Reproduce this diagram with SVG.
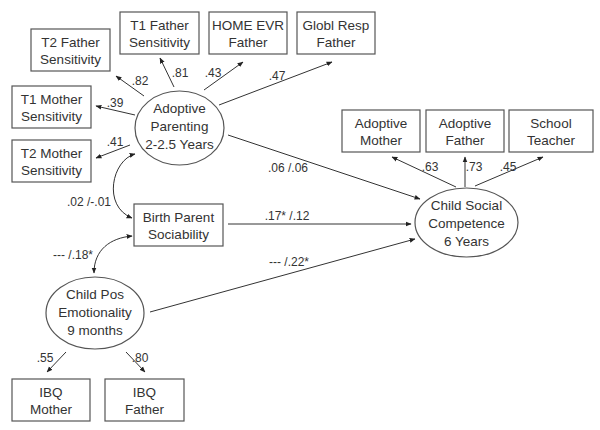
<svg xmlns="http://www.w3.org/2000/svg" width="600" height="430" viewBox="0 0 600 430">
<defs>
<marker id="ah" viewBox="0 0 10 10" refX="9" refY="5" markerWidth="6" markerHeight="6" orient="auto-start-reverse" markerUnits="userSpaceOnUse">
<path d="M0,1 L10,5 L0,9 z" fill="#222"/>
</marker>
<style>
.box{fill:#fff;stroke:#555;stroke-width:1.2}
.ell{fill:#fff;stroke:#555;stroke-width:1.2}
.t{font-family:"Liberation Sans",Arial,sans-serif;font-size:13.5px;fill:#333;text-anchor:middle}
.l{font-family:"Liberation Sans",Arial,sans-serif;font-size:12px;fill:#333;text-anchor:middle}
.c{fill:none;stroke:#333;stroke-width:1}
.a{marker-end:url(#ah)}
.d{marker-start:url(#ah);marker-end:url(#ah)}
</style>
</defs>
<rect width="600" height="430" fill="#fff"/>
<g id="connectors">
<line class="c a" x1="144" y1="96" x2="116" y2="76"/>
<line class="c a" x1="174" y1="87" x2="160" y2="58"/>
<line class="c a" x1="204" y1="90" x2="243" y2="62"/>
<line class="c a" x1="219" y1="105" x2="332" y2="62"/>
<line class="c a" x1="135" y1="115" x2="96" y2="106"/>
<line class="c a" x1="130" y1="145" x2="96" y2="158"/>
<path class="c d" d="M135,154 C112,160 102,206 132,218"/>
<path class="c d" d="M132,236 C110,238 94,250 94,273"/>
<line class="c a" x1="228" y1="224" x2="411" y2="224"/>
<line class="c a" x1="228" y1="135" x2="420" y2="199"/>
<line class="c a" x1="150" y1="312" x2="415" y2="239"/>
<line class="c a" x1="456" y1="187" x2="392" y2="157"/>
<line class="c a" x1="465" y1="187" x2="465" y2="157"/>
<line class="c a" x1="475" y1="186" x2="543" y2="157"/>
<line class="c a" x1="66" y1="352" x2="47" y2="372"/>
<line class="c a" x1="126" y1="352" x2="145" y2="372"/>
<text class="l" x="140" y="85">.82</text>
<text class="l" x="180" y="77">.81</text>
<text class="l" x="213" y="77">.43</text>
<text class="l" x="277" y="80">.47</text>
<text class="l" x="115" y="107">.39</text>
<text class="l" x="115" y="146">.41</text>
<text class="l" x="89" y="206">.02 /-.01</text>
<text class="l" x="73" y="259">--- /.18*</text>
<text class="l" x="287" y="220">.17* /.12</text>
<text class="l" x="288" y="172">.06 /.06</text>
<text class="l" x="289" y="266">--- /.22*</text>
<text class="l" x="430" y="171">.63</text>
<text class="l" x="474" y="171">.73</text>
<text class="l" x="508" y="171">.45</text>
<text class="l" x="45" y="362">.55</text>
<text class="l" x="140" y="362">.80</text>
</g>
<g id="t2father"><rect class="box" x="31" y="29" width="79" height="42"/><text class="t" x="70.5" y="46.5">T2 Father</text><text class="t" x="70.5" y="64">Sensitivity</text></g>
<g id="t1father"><rect class="box" x="120" y="12" width="79" height="42"/><text class="t" x="159.5" y="29.5">T1 Father</text><text class="t" x="159.5" y="47">Sensitivity</text></g>
<g id="homeevr"><rect class="box" x="209" y="12" width="78" height="42"/><text class="t" x="248" y="29.5">HOME EVR</text><text class="t" x="248" y="47">Father</text></g>
<g id="globlresp"><rect class="box" x="297" y="12" width="78" height="42"/><text class="t" x="336" y="29.5">Globl Resp</text><text class="t" x="336" y="47">Father</text></g>
<g id="t1mother"><rect class="box" x="12" y="86" width="79" height="42"/><text class="t" x="51.5" y="103.5">T1 Mother</text><text class="t" x="51.5" y="121">Sensitivity</text></g>
<g id="t2mother"><rect class="box" x="12" y="140" width="79" height="42"/><text class="t" x="51.5" y="157.5">T2 Mother</text><text class="t" x="51.5" y="175">Sensitivity</text></g>
<g id="adoptiveparenting"><ellipse class="ell" cx="179.5" cy="128" rx="44.5" ry="37"/><text class="t" x="179.5" y="113">Adoptive</text><text class="t" x="179.5" y="131">Parenting</text><text class="t" x="179.5" y="149">2-2.5 Years</text></g>
<g id="birthparent"><rect class="box" x="134" y="204" width="89" height="42"/><text class="t" x="178.5" y="221.5">Birth Parent</text><text class="t" x="178.5" y="239">Sociability</text></g>
<g id="childpos"><ellipse class="ell" cx="95" cy="313" rx="49" ry="36"/><text class="t" x="95" y="299">Child Pos</text><text class="t" x="95" y="317">Emotionality</text><text class="t" x="95" y="335">9 months</text></g>
<g id="ibqmother"><rect class="box" x="12" y="379" width="78" height="42"/><text class="t" x="51" y="396.5">IBQ</text><text class="t" x="51" y="414">Mother</text></g>
<g id="ibqfather"><rect class="box" x="105" y="379" width="79" height="42"/><text class="t" x="144.5" y="396.5">IBQ</text><text class="t" x="144.5" y="414">Father</text></g>
<g id="childsocial"><ellipse class="ell" cx="466.5" cy="222.5" rx="51.5" ry="34.5"/><text class="t" x="466.5" y="210">Child Social</text><text class="t" x="466.5" y="228">Competence</text><text class="t" x="466.5" y="246">6 Years</text></g>
<g id="adoptivemother"><rect class="box" x="342" y="110" width="78" height="42"/><text class="t" x="381" y="127.5">Adoptive</text><text class="t" x="381" y="145">Mother</text></g>
<g id="adoptivefather"><rect class="box" x="426" y="110" width="78" height="42"/><text class="t" x="465" y="127.5">Adoptive</text><text class="t" x="465" y="145">Father</text></g>
<g id="schoolteacher"><rect class="box" x="509" y="110" width="84" height="42"/><text class="t" x="551" y="127.5">School</text><text class="t" x="551" y="145">Teacher</text></g>
</svg>
